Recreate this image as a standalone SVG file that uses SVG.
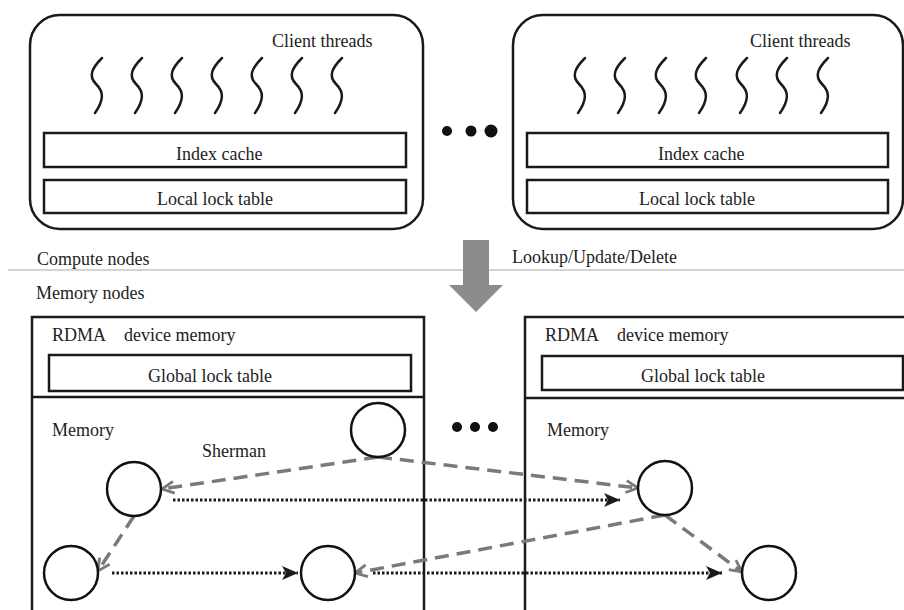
<svg xmlns="http://www.w3.org/2000/svg" width="904" height="610" viewBox="0 0 904 610">
  <style>
    .box { fill: #fff; stroke: #1a1a1a; stroke-width: 2.5; }
    .edge { fill: none; stroke: #1a1a1a; stroke-width: 2.5; }
    .thread { fill: none; stroke: #1a1a1a; stroke-width: 2.5; stroke-linecap: round; }
    .node { fill: #fff; stroke: #111; stroke-width: 2.5; }
    .label { font-family: "Liberation Serif", "Times New Roman", serif; font-size: 18px; fill: #222; }
    .ptr { fill: none; stroke: #7a7a7a; stroke-width: 3.5; stroke-dasharray: 14 8; }
    .sib { fill: none; stroke: #1a1a1a; stroke-width: 3; stroke-dasharray: 2.5 2; }
    .dot { fill: #111; }
  </style>
  <defs>
    <marker id="grayHead" markerUnits="userSpaceOnUse" markerWidth="16" markerHeight="16" refX="13" refY="7" orient="auto" overflow="visible">
      <path d="M1,1 L13,7 L1,13" fill="none" stroke="#7a7a7a" stroke-width="2.8" stroke-linejoin="miter"/>
    </marker>
    <marker id="blackHead" markerUnits="userSpaceOnUse" markerWidth="18" markerHeight="16" refX="16" refY="7" orient="auto" overflow="visible">
      <path d="M0,0 L16,7 L0,14 L4,7 Z" fill="#1a1a1a"/>
    </marker>
    <path id="squiggle" d="M4,58 C-6,68 -10,76 -2,84 C6,92 6,100 -3,113" class="thread"/>
  </defs>

  <!-- compute side -->
  <g id="compute-node-1">
    <rect class="box" x="30" y="15" width="393" height="214" rx="30" ry="30"/>
    <text class="label" x="272" y="47">Client threads</text>
    <use href="#squiggle" x="98"/>
    <use href="#squiggle" x="138"/>
    <use href="#squiggle" x="178"/>
    <use href="#squiggle" x="218"/>
    <use href="#squiggle" x="258"/>
    <use href="#squiggle" x="298"/>
    <use href="#squiggle" x="338"/>
    <rect class="box" x="44" y="133" width="362" height="34"/>
    <text class="label" x="176" y="160">Index cache</text>
    <rect class="box" x="44" y="180" width="362" height="33"/>
    <text class="label" x="157" y="205">Local lock table</text>
  </g>

  <g id="compute-ellipsis">
    <circle class="dot" cx="447" cy="131" r="5"/>
    <circle class="dot" cx="471" cy="131" r="5.5"/>
    <circle class="dot" cx="491" cy="131" r="6.5"/>
  </g>

  <g id="compute-node-2">
    <rect class="box" x="513" y="15" width="390" height="214" rx="30" ry="30"/>
    <text class="label" x="750" y="47">Client threads</text>
    <use href="#squiggle" x="581"/>
    <use href="#squiggle" x="621"/>
    <use href="#squiggle" x="662"/>
    <use href="#squiggle" x="702"/>
    <use href="#squiggle" x="743"/>
    <use href="#squiggle" x="783"/>
    <use href="#squiggle" x="824"/>
    <rect class="box" x="527" y="133" width="361" height="34"/>
    <text class="label" x="658" y="160">Index cache</text>
    <rect class="box" x="527" y="180" width="361" height="33"/>
    <text class="label" x="639" y="205">Local lock table</text>
  </g>

  <!-- boundary between compute and memory -->
  <g id="boundary">
    <line x1="8" y1="270" x2="904" y2="270" stroke="#c4c4c4" stroke-width="1.5"/>
    <text class="label" x="37" y="265">Compute nodes</text>
    <text class="label" x="36" y="299">Memory nodes</text>
    <polygon points="463,240 489,240 489,285 503,285 476,312 449,285 463,285" fill="#8c8c8c"/>
    <text class="label" x="512" y="263">Lookup/Update/Delete</text>
  </g>

  <!-- memory side -->
  <g id="memory-node-1">
    <path class="edge" d="M32,612 V317 H424 V612"/>
    <text class="label" y="341"><tspan x="52">RDMA</tspan><tspan x="124">device memory</tspan></text>
    <rect class="box" x="49" y="355" width="362" height="36"/>
    <text class="label" x="148" y="382">Global lock table</text>
    <line class="edge" x1="32" y1="397" x2="424" y2="397"/>
    <text class="label" x="52" y="436">Memory</text>
    <text class="label" x="202" y="457">Sherman</text>
  </g>

  <g id="memory-ellipsis">
    <circle class="dot" cx="457" cy="427" r="5"/>
    <circle class="dot" cx="475" cy="427" r="5"/>
    <circle class="dot" cx="493" cy="427" r="5"/>
  </g>

  <g id="memory-node-2">
    <path class="edge" d="M525,612 V317 H906"/>
    <text class="label" y="341"><tspan x="545">RDMA</tspan><tspan x="617">device memory</tspan></text>
    <rect class="box" x="542" y="356" width="361" height="34"/>
    <text class="label" x="641" y="382">Global lock table</text>
    <line class="edge" x1="525" y1="398" x2="906" y2="398"/>
    <text class="label" x="547" y="436">Memory</text>
  </g>

  <!-- connectors: dashed = child pointers, dotted = sibling pointers -->
  <g id="connectors">
    <path class="ptr" d="M378,457 L162,489" marker-end="url(#grayHead)"/>
    <path class="ptr" d="M378,457 L638,488" marker-end="url(#grayHead)"/>
    <path class="ptr" d="M134,516 L98,571" marker-end="url(#grayHead)"/>
    <path class="ptr" d="M665,515 L355,573" marker-end="url(#grayHead)"/>
    <path class="ptr" d="M665,515 L742,572" marker-end="url(#grayHead)"/>
    <path class="sib" d="M173,500 L620,500" marker-end="url(#blackHead)"/>
    <path class="sib" d="M112,573 L298,573" marker-end="url(#blackHead)"/>
    <path class="sib" d="M373,573 L722,573" marker-end="url(#blackHead)"/>
  </g>

  <!-- tree nodes -->
  <g id="tree-root"><circle class="node" cx="378" cy="430" r="27"/></g>
  <g id="tree-inner-left"><circle class="node" cx="134" cy="489" r="27"/></g>
  <g id="tree-inner-right"><circle class="node" cx="665" cy="488" r="27"/></g>
  <g id="tree-leaf-1"><circle class="node" cx="71" cy="573" r="27"/></g>
  <g id="tree-leaf-2"><circle class="node" cx="328" cy="573" r="27"/></g>
  <g id="tree-leaf-3"><circle class="node" cx="769" cy="573" r="27"/></g>
</svg>
